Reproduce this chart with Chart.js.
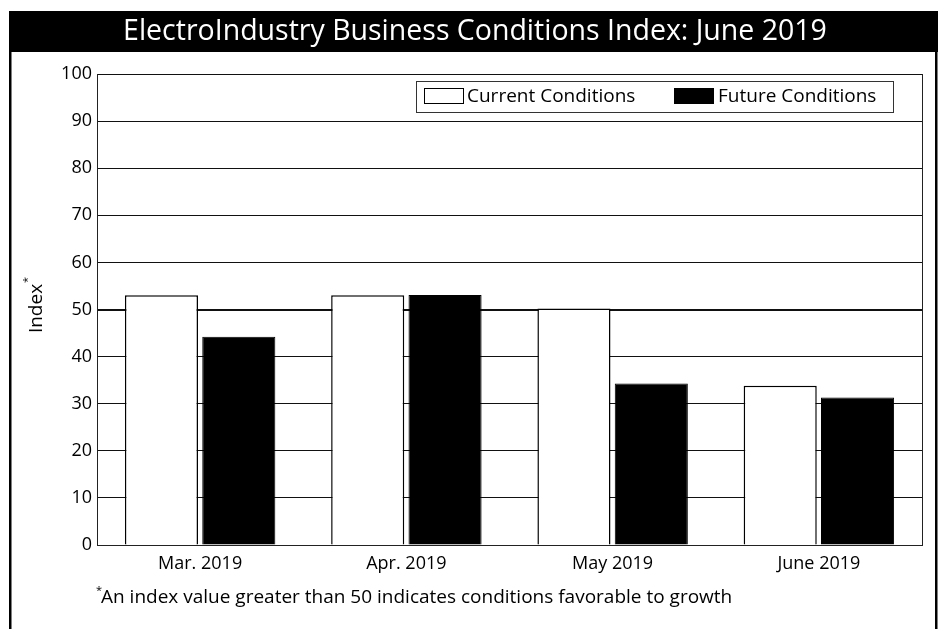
<!DOCTYPE html>
<html>
<head>
<meta charset="utf-8">
<script src="https://cdn.jsdelivr.net/npm/chart.js@4"></script>
<style>
  html, body { margin: 0; padding: 0; background: #fff; }
  #wrap { width: 938px; height: 629px; position: relative; }
</style>
</head>
<body>
<div id="wrap"><canvas id="c" width="938" height="629"></canvas></div>
<script>
const titleText = 'ElectroIndustry Business Conditions Index: June 2019';
const categories = ['Mar. 2019', 'Apr. 2019', 'May 2019', 'June 2019'];
const currentConditions = [53.0, 53.0, 50.2, 33.8];
const futureConditions = [44.2, 53.1, 34.3, 31.3];
const yTicks = [0, 10, 20, 30, 40, 50, 60, 70, 80, 90, 100];
const seriesNames = ['Current Conditions', 'Future Conditions'];
const yAxisTitle = 'Index';
const footnote = 'An index value greater than 50 indicates conditions favorable to growth';

const FONT = '"Open Sans", "Noto Sans", sans-serif';

const decor = {
  id: 'decor',
  beforeDraw(chart) {
    const c = chart.ctx;
    c.save();
    c.fillStyle = '#fff';
    c.fillRect(0, 0, chart.width, chart.height);
    // title bar
    c.fillStyle = '#000';
    c.fillRect(10, 11, 928, 41);
    // side frame lines
    c.fillRect(9, 11, 2.5, 618);
    c.fillRect(935, 52, 2.5, 577);
    c.fillStyle = '#fff';
    c.font = '28.5px ' + FONT;
    c.textAlign = 'center';
    c.textBaseline = 'middle';
    c.fillText(titleText, 475, 32);
    c.restore();
  },
  afterDatasetsDraw(chart) {
    const c = chart.ctx;
    const a = chart.chartArea;
    c.save();
    // plot frame right edge
    c.strokeStyle = '#222';
    c.lineWidth = 1;
    c.beginPath();
    c.moveTo(Math.round(a.right) + 0.5, a.top);
    c.lineTo(Math.round(a.right) + 0.5, a.bottom);
    c.stroke();
    // legend box
    c.fillStyle = '#fff';
    c.fillRect(416, 81, 477, 31);
    c.strokeStyle = '#333';
    c.strokeRect(416.5, 81.5, 477, 31);
    const ds = chart.data.datasets;
    const items = [{x: 424, tx: 467}, {x: 674, tx: 718}];
    c.font = '19px ' + FONT;
    c.textBaseline = 'middle';
    c.textAlign = 'left';
    items.forEach((it, i) => {
      c.fillStyle = ds[i].backgroundColor;
      c.fillRect(it.x, 88, 40, 16);
      c.strokeStyle = '#000';
      c.lineWidth = 1;
      c.strokeRect(it.x + 0.5, 88.5, 39, 15);
      c.fillStyle = '#000';
      c.fillText(ds[i].label, it.tx, 97);
    });
    // y axis title (rotated) with superscript asterisk
    c.save();
    c.translate(37, (a.top + a.bottom) / 2 - 4);
    c.rotate(-Math.PI / 2);
    c.font = '19px ' + FONT;
    c.textAlign = 'left';
    c.textBaseline = 'middle';
    const w = c.measureText(yAxisTitle).width;
    c.fillStyle = '#000';
    c.fillText(yAxisTitle, -w / 2 - 3, 0);
    c.font = '11px ' + FONT;
    c.fillText('*', w / 2 - 2, -9);
    c.restore();
    // footnote
    c.fillStyle = '#000';
    c.font = '11px ' + FONT;
    c.textAlign = 'left';
    c.textBaseline = 'middle';
    c.fillText('*', 96, 591);
    c.font = '19px ' + FONT;
    c.fillText(footnote, 101, 598);
    c.restore();
  }
};

new Chart(document.getElementById('c'), {
  type: 'bar',
  data: {
    labels: categories,
    datasets: [
      { label: seriesNames[0], data: currentConditions, backgroundColor: '#ffffff', borderColor: '#000000', borderWidth: 1.5 },
      { label: seriesNames[1], data: futureConditions, backgroundColor: '#000000', borderColor: '#000000', borderWidth: 1 }
    ]
  },
  options: {
    responsive: false,
    animation: false,
    devicePixelRatio: 1,
    layout: { padding: { left: 0, top: 74, right: 16, bottom: 0 } },
    datasets: { bar: { categoryPercentage: 0.75, barPercentage: 0.945 } },
    plugins: { legend: { display: false }, title: { display: false }, tooltip: { enabled: false } },
    scales: {
      x: {
        grid: { display: false, drawTicks: false },
        border: { display: true, color: '#222', width: 1 },
        ticks: { color: '#000', font: { family: FONT, size: 18 }, padding: 8 },
        afterFit(s) { s.height = 84; }
      },
      y: {
        min: 0, max: 100,
        afterBuildTicks(s) { s.ticks = yTicks.map(v => ({ value: v })); },
        grid: {
          drawTicks: false,
          color: '#111',
          lineWidth: (ctx) => (ctx.tick && ctx.tick.value === 50 ? 2 : 1)
        },
        border: { display: true, color: '#222', width: 1 },
        ticks: { color: '#000', font: { family: FONT, size: 18 }, padding: 5 },
        afterFit(s) { s.width = 97; }
      }
    }
  },
  plugins: [decor]
});
</script>
</body>
</html>
